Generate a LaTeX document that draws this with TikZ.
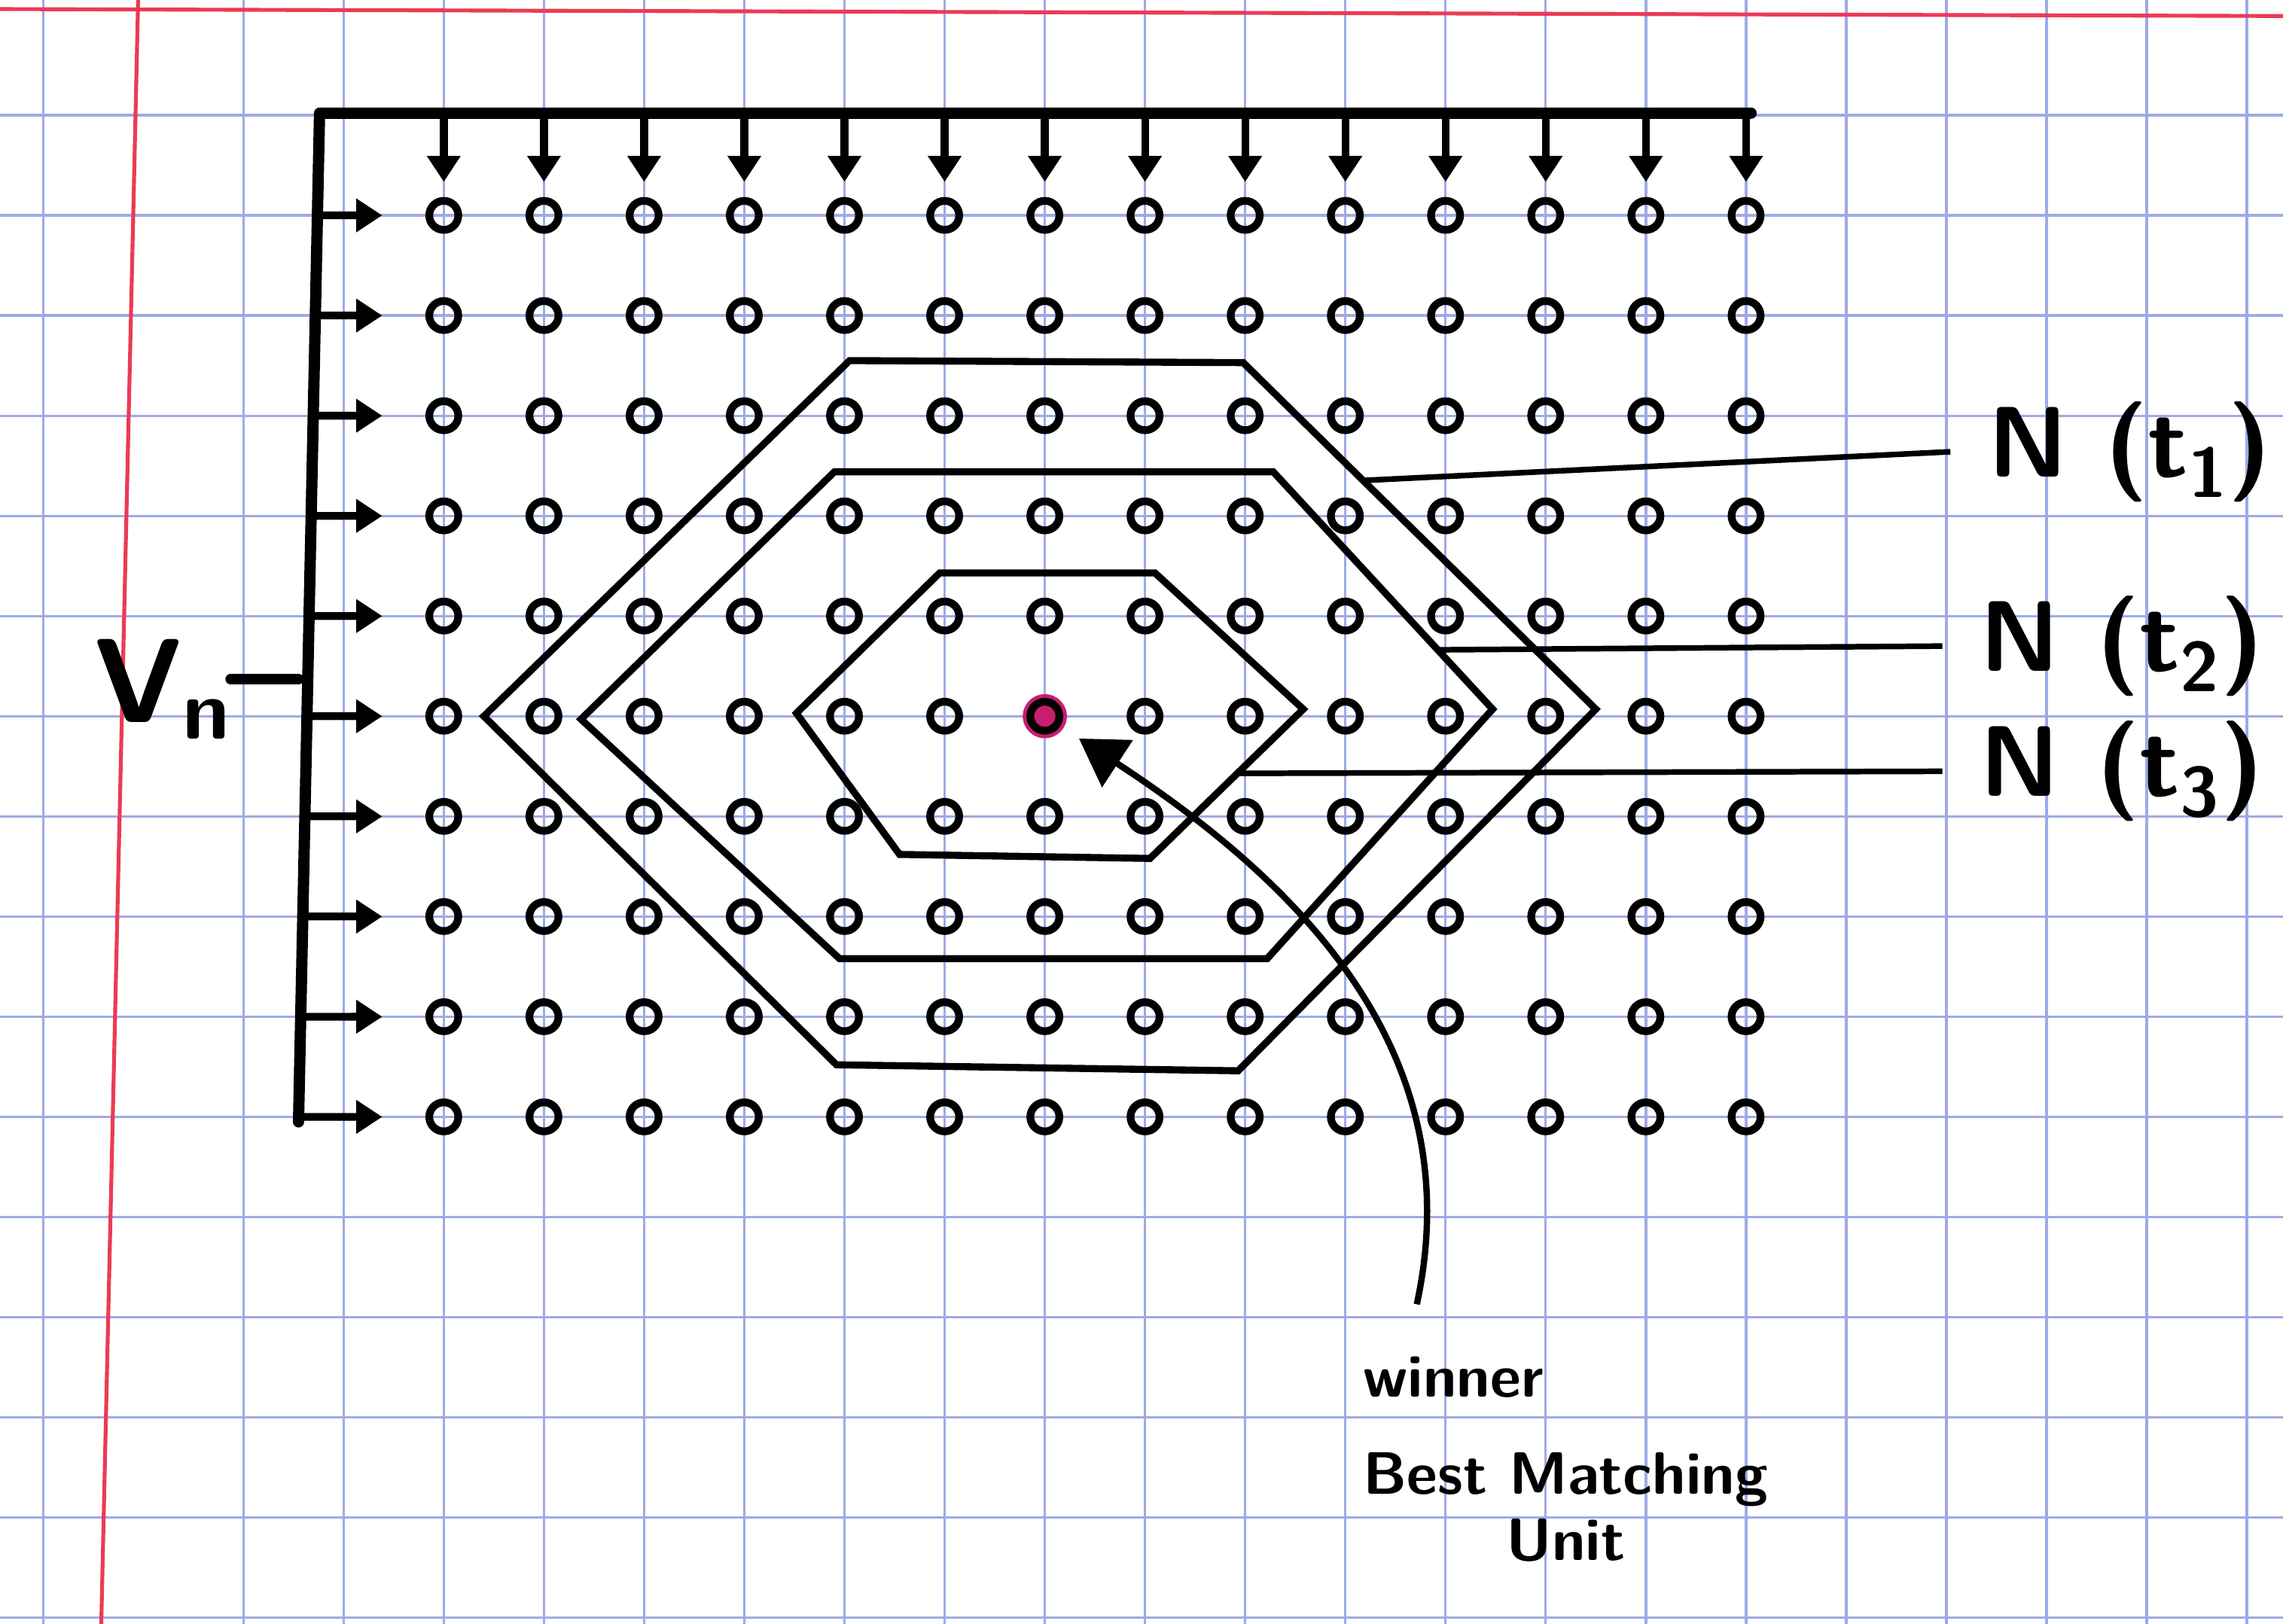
\documentclass[tikz,border=0pt]{standalone}
\usepackage{fontspec}
\usetikzlibrary{positioning,arrows.meta,calc}
\definecolor{gridblue}{RGB}{158,170,230}
\definecolor{margin}{RGB}{236,58,86}
\definecolor{bmucol}{RGB}{200,30,110}
\tikzset{
  paper/.style={gridblue, line width=0.7pt},
  redline/.style={margin, line width=1.1pt},
  bar/.style={line width=3.2pt, line cap=round, line join=round},
  feed/.style={-{Triangle[length=2.6mm, width=3.2mm]}, line width=2.2pt},
  unit/.style={circle, draw, line width=2.2pt, minimum size=2.9mm, inner sep=0pt},
  bmu/.style={circle, fill=bmucol, minimum size=4.4mm, inner sep=0pt},
  hood/.style={line width=2pt, line join=miter},
  lead/.style={line width=1.6pt},
  nlab/.style={anchor=west, inner xsep=3.7mm, inner ysep=0pt,
               font=\sffamily\bfseries\fontsize{28.5}{32}\selectfont},
  hand/.style={inner sep=0pt, font=\sffamily\bfseries\fontsize{17}{20}\selectfont},
  bmuarrow/.style={-{Triangle[length=4.6mm, width=5.5mm]}, line width=1.8pt},
}

\begin{document}
\begin{tikzpicture}
  \useasboundingbox (-4.43,-14.06) rectangle (18.36,2.15);
  \fill[white] (-4.43,-14.06) rectangle (18.36,2.15);
  \begin{scope}
    \clip (-4.43,-14.06) rectangle (18.36,2.15);
    \foreach \x in {-4,-2,-1,...,18} \draw[paper] (\x,-14.1) -- (\x,2.2);
    \foreach \y in {1,0,...,-14} \draw[paper] (-4.5,\y) -- (18.4,\y);
    \draw[redline] (-3.05,2.2) -- (-3.42,-14.1);
    \draw[redline] (-4.5,2.06) -- (18.4,1.99);
  \end{scope}

  \coordinate (tl) at (-1.24,1.02);
  \coordinate (tr) at (13.05,1.02);
  \coordinate (bl) at (-1.45,-9.05);
  \draw[bar] (tr) -- (tl) -- (bl);

  \node[bmu] (bmu) at (6,-5) {};
  \foreach \i in {0,...,13}
    \foreach \j in {0,...,9}
      \node[unit] (u-\i-\j) at (\i,-\j) {};

  \foreach \i in {0,...,13}
    \draw[feed, shorten >=1.5mm] (u-\i-0 |- tl) -- (u-\i-0);
  \foreach \j in {0,...,9}
    \draw[feed, shorten >=4.3mm] ($(tl)!{(1.02+\j)/10.07}!(bl)$) -- (u-0-\j);

  \node[anchor=base west, inner sep=0pt, font=\sffamily\bfseries\fontsize{34}{38}\selectfont]
    (vn) at (-3.49,-5.06) {V\raisebox{-1.7mm}{\fontsize{24}{26}\selectfont n}};
  \draw[bar, line width=3pt] ([yshift=1mm]vn.east) -- ([yshift=1mm]vn.east -| bl);

  \draw[hood] (4.05,-1.45) coordinate (h1-tl) -- (7.98,-1.47) coordinate (h1-tr)
    -- (11.5,-4.93) coordinate (h1-r) -- (7.93,-8.54) coordinate (h1-br)
    -- (3.92,-8.48) coordinate (h1-bl) -- (0.4,-5.0) coordinate (h1-l) -- cycle;
  \draw[hood] (3.9,-2.56) coordinate (h2-tl) -- (8.28,-2.56) coordinate (h2-tr)
    -- (10.47,-4.93) coordinate (h2-r) -- (8.22,-7.42) coordinate (h2-br)
    -- (3.95,-7.42) coordinate (h2-bl) -- (1.37,-5.03) coordinate (h2-l) -- cycle;
  \draw[hood] (4.95,-3.57) coordinate (h3-tl) -- (7.1,-3.57) coordinate (h3-tr)
    -- (8.58,-4.93) coordinate (h3-r) -- (7.05,-6.42) coordinate (h3-br)
    -- (4.55,-6.38) coordinate (h3-bl) -- (3.52,-4.97) coordinate (h3-l) -- cycle;

  \node[nlab] (n1) at (15.04,-2.36) {N (t\textsubscript{1})};
  \node[nlab] (n2) at (14.96,-4.3) {N (t\textsubscript{2})};
  \node[nlab] (n3) at (14.96,-5.55) {N (t\textsubscript{3})};
  \draw[lead] ($(h1-tr)!0.34!(h1-r)$) -- (n1.west);
  \draw[lead] ($(h2-tr)!0.75!(h2-r)$) -- (n2.west);
  \draw[lead] ($(h3-r)!0.43!(h3-br)$) -- (n3.west);

  \node[hand, anchor=base] (best) at (11.2,-12.77) {Best Matching};
  \node[hand, anchor=base west] (winner) at ([yshift=0.97cm]best.base west) {winner};
  \node[hand, anchor=base] (unitlab) at ([yshift=-0.66cm]best.base) {Unit};

  \draw[bmuarrow, shorten >=1.8mm] ([shift={(0.54,0.52)}]winner.north west)
    .. controls (10.25,-8.4) and (8.6,-6.7) .. (bmu);
\end{tikzpicture}
\end{document}
